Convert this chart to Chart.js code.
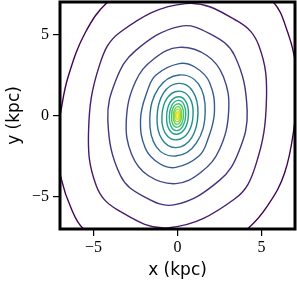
<!DOCTYPE html>
<html>
<head>
<meta charset="utf-8">
<script src="https://cdn.jsdelivr.net/npm/chart.js@4"></script>
<style>
  body { margin: 0; background: #fff; }
  canvas { display: block; }
</style>
</head>
<body>
<canvas id="myChart" width="297" height="283"></canvas>
<script>
// axis setup
const xRange = [-7, 7];
const yRange = [-7, 7];
const xTicks = [-5, 0, 5];
const yTicks = [-5, 0, 5];
const xTitle = 'x (kpc)';
const yTitle = 'y (kpc)';

// contour lines, outermost first, points in kpc, going clockwise from the top
const contour01 = [[-4.12, 7.04], [-2.21, 8.27], [0.78, 8.70], [3.76, 8.27], [5.67, 7.04], [6.57, 5.12], [7.04, 3.15], [7.10, 1.30], [6.99, -0.43], [6.39, -3.52], [5.37, -5.56], [4.18, -6.98], [2.27, -8.27], [-0.72, -8.70], [-3.70, -8.15], [-5.61, -6.98], [-6.33, -5.74], [-6.93, -3.89], [-7.22, -1.79], [-6.93, 0.37], [-6.51, 2.41], [-5.49, 5.12]];
const contour02 = [[0.5, 6.9], [3.6, 5.8], [4.85, 4.3], [5.3, 1.0], [4.66, -3.06], [3.4, -5.15], [-0.5, -6.92], [-3.6, -5.8], [-4.85, -4.3], [-5.3, -1.0], [-4.66, 3.06], [-3.4, 5.15]];
const contour03 = [[0.15, 5.5], [2.0, 5.0], [3.4, 3.7], [4.15, 0.3], [3.66, -2.2], [2.5, -4.0], [-0.15, -5.5], [-2.0, -5.0], [-3.4, -3.7], [-4.15, -0.3], [-3.66, 2.2], [-2.5, 4.0]];
const contour04 = [[0.1, 4.2], [1.75, 3.7], [2.73, 2.4], [3.05, 0.3], [2.5, -2.1], [1.4, -3.5], [-0.1, -4.2], [-1.75, -3.7], [-2.73, -2.4], [-3.05, -0.3], [-2.5, 2.1], [-1.4, 3.5]];
const contour05 = [[0.1, 3.2], [1.08, 2.96], [1.91, 2.04], [2.2, 0.2], [1.8, -1.5], [1.28, -2.5], [-0.1, -3.2], [-1.08, -2.96], [-1.91, -2.04], [-2.2, -0.2], [-1.8, 1.5], [-1.28, 2.5]];
const contour06 = [[0.1, 2.5], [1.25, 1.95], [1.65, 0.2], [1.12, -1.7], [-0.1, -2.5], [-1.25, -1.95], [-1.65, -0.2], [-1.12, 1.7]];
const contour07 = [[0.08, 1.98], [0.92, 1.48], [1.22, 0.12], [0.84, -1.38], [-0.08, -1.98], [-0.92, -1.48], [-1.22, -0.12], [-0.84, 1.38]];
const contour08 = [[0.06, 1.5], [0.72, 1.1], [0.93, 0.08], [0.64, -1.04], [-0.06, -1.5], [-0.72, -1.1], [-0.93, -0.08], [-0.64, 1.04]];
const contour09 = [[0.05, 1.16], [0.5, 0.86], [0.65, 0.06], [0.45, -0.8], [-0.05, -1.16], [-0.5, -0.86], [-0.65, -0.06], [-0.45, 0.8]];
const contour10 = [[0.04, 0.93], [0.38, 0.69], [0.49, 0.05], [0.33, -0.64], [-0.04, -0.93], [-0.38, -0.69], [-0.49, -0.05], [-0.33, 0.64]];
const contour11 = [[0.03, 0.72], [0.28, 0.53], [0.36, 0.04], [0.25, -0.5], [-0.03, -0.72], [-0.28, -0.53], [-0.36, -0.04], [-0.25, 0.5]];
const contour12 = [[0.02, 0.55], [0.19, 0.41], [0.25, 0.03], [0.17, -0.38], [-0.02, -0.55], [-0.19, -0.41], [-0.25, -0.03], [-0.17, 0.38]];
const contour13 = [[0.02, 0.39], [0.14, 0.29], [0.19, 0.03], [0.13, -0.27], [-0.02, -0.39], [-0.14, -0.29], [-0.19, -0.03], [-0.13, 0.27]];
const contour14 = [[0.01, 0.23], [0.09, 0.17], [0.12, 0.02], [0.08, -0.16], [-0.01, -0.23], [-0.09, -0.17], [-0.12, -0.02], [-0.08, 0.16]];
const contour15 = [[0.01, 0.11], [0.045, 0.08], [0.06, 0.01], [0.04, -0.08], [-0.01, -0.11], [-0.045, -0.08], [-0.06, -0.01], [-0.04, 0.08]];

const contours = [contour01, contour02, contour03, contour04, contour05, contour06, contour07, contour08,
    contour09, contour10, contour11, contour12, contour13, contour14, contour15];

// viridis, one colour per level
const lineColors = ['#440154', '#481b6d', '#46327e', '#3f4788', '#365c8d', '#2e6e8e', '#277f8e', '#21918c',
    '#1fa187', '#2db27d', '#4ac16d', '#71cf57', '#9fda3a', '#cfe11c', '#fde725'];

// wrap each ring so the spline closes smoothly; the two extra end segments are hidden
function ringDataset(pts, color) {
    const n = pts.length;
    const wrapped = [pts[n - 1]].concat(pts, [pts[0], pts[1]]);
    return {
        data: wrapped.map(p => ({ x: p[0], y: p[1] })),
        showLine: true,
        borderColor: color,
        borderWidth: 1.4,
        pointRadius: 0,
        tension: 0.4,
        segment: {
            borderColor: ctx => (ctx.p0DataIndex === 0 || ctx.p0DataIndex === n + 1) ? 'rgba(0,0,0,0)' : color
        }
    };
}

const datasets = contours.map((c, i) => ringDataset(c, lineColors[i]));

// thick frame round the plot area
const frame = {
    id: 'frame',
    afterDraw(chart) {
        const { ctx, chartArea } = chart;
        ctx.save();
        ctx.strokeStyle = '#000';
        ctx.lineWidth = 3;
        ctx.strokeRect(chartArea.left, chartArea.top, chartArea.right - chartArea.left, chartArea.bottom - chartArea.top);
        ctx.restore();
    }
};

const tickFont = { family: 'Liberation Serif', size: 16 };
const titleFont = { family: 'DejaVu Sans', size: 17 };
const fmt = v => (v < 0 ? '\u2212' + Math.abs(v) : String(v));

const config = {
    type: 'scatter',
    data: { datasets },
    options: {
        responsive: false,
        animation: false,
        devicePixelRatio: 1,
        layout: { padding: { top: 2, right: 2 } },
        elements: { line: { capBezierPoints: false } },
        plugins: { legend: { display: false }, tooltip: { enabled: false } },
        scales: {
            x: {
                type: 'linear',
                min: xRange[0],
                max: xRange[1],
                afterBuildTicks: s => { s.ticks = xTicks.map(v => ({ value: v })); },
                afterFit: s => { s.height = 54; s.paddingLeft = 0; s.paddingRight = 0; },
                border: { display: false },
                grid: { drawOnChartArea: false, color: '#000', tickLength: 7, lineWidth: 1.2 },
                ticks: { color: '#000', font: tickFont, padding: 2, maxRotation: 0, callback: fmt },
                title: { display: true, text: xTitle, color: '#000', font: titleFont, padding: { top: 0, bottom: 2 } }
            },
            y: {
                type: 'linear',
                min: yRange[0],
                max: yRange[1],
                afterBuildTicks: s => { s.ticks = yTicks.map(v => ({ value: v })); },
                afterFit: s => { s.width = 60; s.paddingTop = 0; s.paddingBottom = 0; },
                border: { display: false },
                grid: { drawOnChartArea: false, color: '#000', tickLength: 7, lineWidth: 1.2 },
                ticks: { color: '#000', font: tickFont, padding: 4, callback: fmt },
                title: { display: true, text: yTitle, color: '#000', font: titleFont, padding: { top: 4, bottom: 0 } }
            }
        }
    },
    plugins: [frame]
};

const myChart = new Chart(document.getElementById('myChart'), config);
</script>
</body>
</html>
